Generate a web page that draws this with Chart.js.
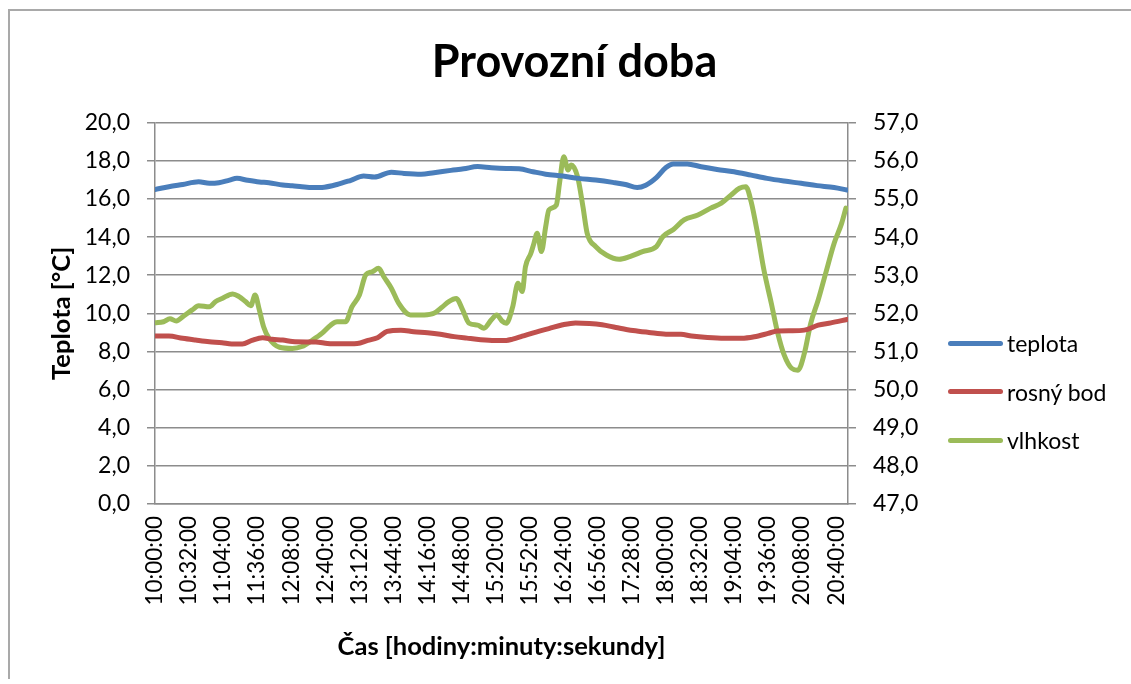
<!DOCTYPE html>
<html><head><meta charset="utf-8">
<script src="https://cdn.jsdelivr.net/npm/chart.js@4.4.1/dist/chart.umd.min.js"></script>
<style>
html,body{margin:0;padding:0;background:#fff;}
#wrap{position:relative;width:1131px;height:684px;overflow:hidden;}
#frame{position:absolute;left:8px;top:9px;width:1200px;height:668px;border-top:2px solid #a9a9a9;border-left:2px solid #a9a9a9;}
canvas{position:absolute;left:0;top:0;}
#legend{position:absolute;left:948px;top:319px;font-family:Lato;font-size:23px;color:#000;}
.item{height:48.5px;display:flex;align-items:center;white-space:nowrap;}
.sw{width:55px;height:5px;border-radius:2.5px;margin-right:4px;}
</style></head>
<body><div id="wrap"><div id="frame"></div><canvas id="c" width="1131" height="684"></canvas><div id="legend"></div></div>
<script>
// x tick labels (minutes after 10:00:00)
const tickMinutes = [0,32,64,96,128,160,192,224,256,288,320,352,384,416,448,480,512,544,576,608,640];
const tickLabels = ['10:00:00','10:32:00','11:04:00','11:36:00','12:08:00','12:40:00','13:12:00','13:44:00','14:16:00','14:48:00','15:20:00','15:52:00','16:24:00','16:56:00','17:28:00','18:00:00','18:32:00','19:04:00','19:36:00','20:08:00','20:40:00'];

const seriesNames = ['teplota','rosný bod','vlhkost'];
const seriesColors = ['#4A7EBB','#C0504D','#9BBB59'];

// teplota [°C]
const tempMinutes = [0,13,26,41,51,60,70,77,87,98,107,120,129,138,148,159,171,184,196,206,222,234,250,262,278,290,303,316,330,342,355,367,383,398,414,430,442,453,461,471,480,487,500,513,528,544,560,575,591,607,622,638,650];
const tempValues  = [16.50,16.64,16.76,16.90,16.82,16.85,16.99,17.08,16.98,16.89,16.85,16.73,16.69,16.64,16.60,16.62,16.76,16.98,17.20,17.15,17.40,17.34,17.30,17.38,17.50,17.58,17.70,17.64,17.60,17.58,17.43,17.30,17.20,17.08,16.99,16.87,16.76,16.60,16.72,17.12,17.65,17.84,17.84,17.69,17.55,17.43,17.25,17.08,16.94,16.82,16.70,16.60,16.47];

// rosný bod [°C]
const dewMinutes = [0,13,26,38,51,63,72,82,91,101,110,120,129,142,151,162,175,190,200,209,218,231,243,256,268,281,293,306,319,330,336,345,358,370,383,395,408,420,433,449,464,480,494,504,519,535,551,563,576,585,598,610,623,635,650];
const dewValues  = [8.81,8.81,8.69,8.60,8.51,8.46,8.39,8.39,8.58,8.72,8.64,8.60,8.52,8.50,8.50,8.42,8.40,8.42,8.58,8.72,9.05,9.12,9.04,8.98,8.90,8.78,8.70,8.62,8.58,8.58,8.65,8.80,9.02,9.20,9.40,9.50,9.47,9.40,9.26,9.10,9.00,8.91,8.90,8.81,8.73,8.69,8.69,8.77,8.95,9.08,9.09,9.12,9.38,9.50,9.68];

// vlhkost [%] (right axis)
const humMinutes = [0,8,14,20,27,35,41,51,57,63,73,79,85,90,94,98,102,107,117,129,138,148,157,165,171,179,185,192,198,204,210,215,222,229,240,253,262,270,276,283,289,295,303,309,316,321,326,330,336,341,345,348,353,356,359,363,367,370,377,380,384,388,391,397,402,406,414,424,436,446,458,471,477,487,497,510,522,532,541,549,555,560,566,572,579,585,591,598,604,610,616,623,630,638,645,649];
const humValues  = [51.75,51.78,51.86,51.80,51.93,52.09,52.20,52.17,52.31,52.39,52.51,52.44,52.31,52.20,52.48,52.09,51.65,51.35,51.11,51.08,51.13,51.30,51.48,51.69,51.78,51.78,52.17,52.48,53.01,53.09,53.18,52.96,52.66,52.26,51.96,51.96,52.00,52.17,52.31,52.39,52.09,51.74,51.69,51.61,51.83,51.96,51.80,51.74,52.17,52.79,52.57,53.22,53.57,53.84,54.10,53.62,54.27,54.71,54.84,55.41,56.11,55.76,55.89,55.58,54.80,54.10,53.75,53.53,53.42,53.49,53.62,53.75,54.01,54.20,54.45,54.58,54.76,54.89,55.10,55.28,55.32,54.93,54.10,53.14,52.26,51.48,50.91,50.56,50.51,50.95,51.74,52.35,53.05,53.84,54.36,54.76];

const toXY = (ms, vs) => ms.map((m, i) => ({x: m, y: vs[i]}));
const gridColor = '#8c8c8c';
const fmt = v => v.toFixed(1).replace('.', ',');

Chart.defaults.font.family = 'Lato';
Chart.defaults.color = '#000';

const mk = (i, ms, vs, axis) => ({
  label: seriesNames[i], data: toXY(ms, vs), yAxisID: axis,
  borderColor: seriesColors[i], backgroundColor: seriesColors[i],
  borderWidth: 5, pointRadius: 0, cubicInterpolationMode: 'monotone',
  borderJoinStyle: 'round', borderCapStyle: 'round'
});

new Chart(document.getElementById('c'), {
  type: 'line',
  data: { datasets: [
    mk(0, tempMinutes, tempValues, 'y'),
    mk(1, dewMinutes, dewValues, 'y'),
    mk(2, humMinutes, humValues, 'y2')
  ]},
  options: {
    responsive: false, animation: false, devicePixelRatio: 1,
    layout: { padding: { left: 18, right: 0, top: 0, bottom: 0 } },
    plugins: {
      legend: { display: false }, tooltip: { enabled: false },
      title: { display: true, text: 'Provozní doba', color: '#000',
        font: { size: 45, weight: 'bold' }, padding: { top: 35, bottom: 33.7 } }
    },
    scales: {
      x: {
        type: 'linear', min: 0, max: 651,
        afterBuildTicks: s => { s.ticks = tickMinutes.map(v => ({value: v})); },
        afterFit: s => { s.height = 180; },
        grid: { display: false, drawTicks: false },
        border: { display: true, color: gridColor, width: 1.5 },
        ticks: { autoSkip: false, minRotation: 90, maxRotation: 90, padding: 12,
          font: { size: 22.5 }, color: '#000',
          callback: v => tickLabels[tickMinutes.indexOf(v)] },
        title: { display: true, text: 'Čas [hodiny:minuty:sekundy]', color: '#000',
          font: { size: 25.5, weight: 'bold' }, padding: { top: 4, bottom: 21.7 } }
      },
      y: {
        position: 'left', min: 0, max: 20,
        afterFit: s => { s.width = 137; },
        grid: { color: gridColor, lineWidth: 1.5, tickLength: 8, tickColor: gridColor },
        border: { display: true, color: gridColor, width: 1.5 },
        ticks: { stepSize: 2, padding: 17, font: { size: 23 }, color: '#000', callback: fmt },
        title: { display: true, text: 'Teplota [°C]', color: '#000',
          font: { size: 25.5, weight: 'bold' }, padding: { top: 28.7, bottom: 0 } }
      },
      y2: {
        position: 'right', min: 47, max: 57,
        afterFit: s => { s.width = 283; },
        grid: { drawOnChartArea: false, color: gridColor, lineWidth: 1.5, tickLength: 8, tickColor: gridColor },
        border: { display: true, color: gridColor, width: 1.5 },
        ticks: { stepSize: 1, padding: 17, font: { size: 23 }, color: '#000', callback: fmt }
      }
    }
  }
});

const lg = document.getElementById('legend');
seriesNames.forEach((n, i) => {
  const it = document.createElement('div'); it.className = 'item';
  const sw = document.createElement('div'); sw.className = 'sw'; sw.style.background = seriesColors[i];
  const tx = document.createElement('span'); tx.textContent = n;
  it.appendChild(sw); it.appendChild(tx); lg.appendChild(it);
});
</script>
</body></html>
